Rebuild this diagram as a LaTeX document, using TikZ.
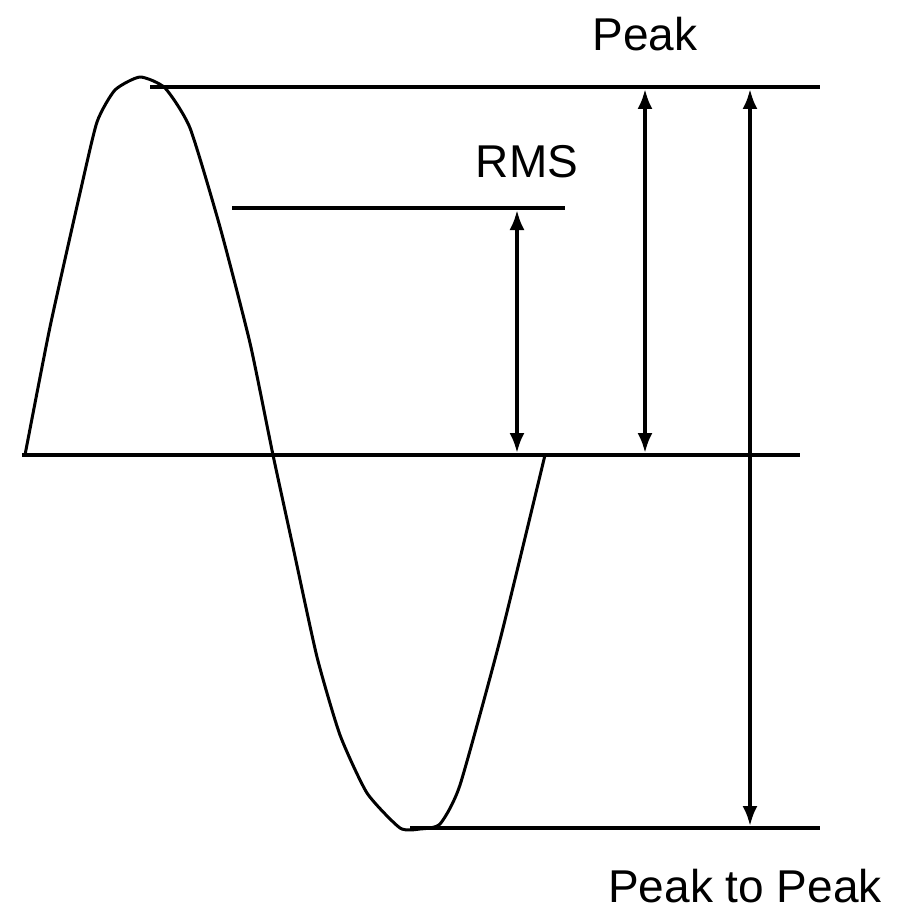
\documentclass[tikz,border=0pt]{standalone}
\usepackage{fontspec}
\setmainfont{Liberation Sans}
\usetikzlibrary{arrows.meta}
\begin{document}
\begin{tikzpicture}[x=1pt,y=-1pt,
  hline/.style={line width=4pt},
  wave/.style={line width=3pt,line join=round},
  meas/.style={line width=3.5pt,{Latex[length=20pt,width=15pt]}-{Latex[length=20pt,width=15pt]}},
  lbl/.style={font=\fontsize{46}{50}\selectfont,anchor=base,inner sep=0pt}]
\useasboundingbox (0,0) rectangle (912,915);
% horizontal reference lines
\coordinate (t1) at (150,87);  \coordinate (t2) at (820,87);
\coordinate (r1) at (232,208); \coordinate (r2) at (565,208);
\coordinate (m1) at (22,455);  \coordinate (m2) at (800,455);
\coordinate (b1) at (410,828); \coordinate (b2) at (820,828);
\draw[hline] (t1) -- (t2);
\draw[hline] (r1) -- (r2);
\draw[hline] (m1) -- (m2);
\draw[hline] (b1) -- (b2);
% waveform
\draw[wave] plot[smooth,tension=0.35] coordinates {
 (25,455) (50,327) (80,193) (97,122) (115,90) (140,77) (165,88) (190,128)
 (220,227) (250,343) (273,455) (293,547) (317,657) (340,735) (367,793)
 (400,828) (420,829) (440,824) (460,785) (500,640) (545,455)};
% measurement arrows
\coordinate (pa1) at (645,89);  \coordinate (pa2) at (645,453);
\coordinate (ra1) at (517,210); \coordinate (ra2) at (517,453);
\coordinate (qa1) at (750,89);  \coordinate (qa2) at (750,826);
\draw[meas] (pa1) -- (pa2);
\draw[meas] (ra1) -- (ra2);
\draw[meas] (qa1) -- (qa2);
% labels
\node[lbl] (peak) at (645,51) {Peak};
\node[lbl] (rms) at (527,177) {RMS};
\node[lbl] (p2p) at (745,902) {Peak to Peak};
\end{tikzpicture}
\end{document}
